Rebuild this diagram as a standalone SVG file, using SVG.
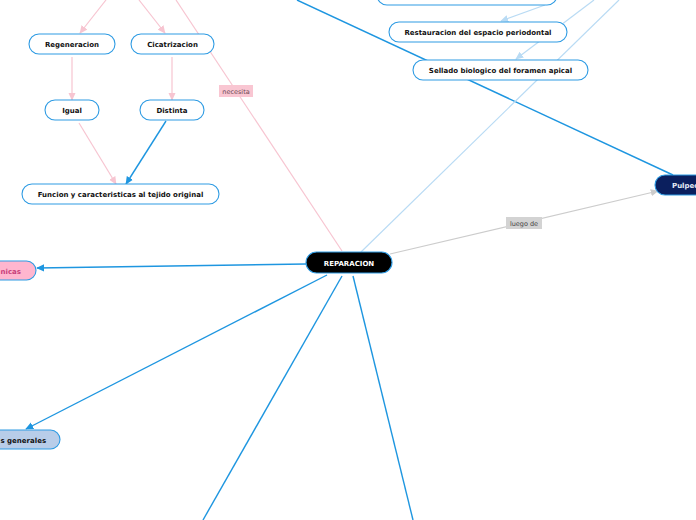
<svg xmlns="http://www.w3.org/2000/svg" width="696" height="520" viewBox="0 0 696 520">
<style>
.n rect{fill:#fff;stroke:#2e9be3;stroke-width:1.1}
.t{font-family:"DejaVu Sans",Verdana,sans-serif;font-weight:bold;font-size:7px;fill:#111;text-anchor:middle}
.c{fill:none;stroke-width:1.2}
.blue{stroke:#1e96e0;stroke-width:1.4}
.pink{stroke:#f7c5d1}
.lb{stroke:#b9dbf4}
.grey{stroke:#cccccc}
.lbl{font-family:"DejaVu Sans",Verdana,sans-serif;font-size:6.5px;text-anchor:middle}
</style>
<defs>
<marker id="mb" viewBox="0 0 10 10" refX="9" refY="5" markerWidth="8" markerHeight="8" markerUnits="userSpaceOnUse" orient="auto"><path d="M0,0.5 L10,5 L0,9.5 z" fill="#1e96e0"/></marker>
<marker id="mp" viewBox="0 0 10 10" refX="9" refY="5" markerWidth="8" markerHeight="8" markerUnits="userSpaceOnUse" orient="auto"><path d="M0,0.5 L10,5 L0,9.5 z" fill="#f7c5d1"/></marker>
<marker id="ml" viewBox="0 0 10 10" refX="9" refY="5" markerWidth="8" markerHeight="8" markerUnits="userSpaceOnUse" orient="auto"><path d="M0,0.5 L10,5 L0,9.5 z" fill="#b9dbf4"/></marker>
<marker id="mg" viewBox="0 0 10 10" refX="9" refY="5" markerWidth="8" markerHeight="8" markerUnits="userSpaceOnUse" orient="auto"><path d="M0,0.5 L10,5 L0,9.5 z" fill="#cccccc"/></marker>
</defs>
<rect width="696" height="520" fill="#fff"/>
<g id="connectors">
<line class="c blue" x1="297" y1="0" x2="673" y2="175"/>
<line class="c pink" x1="176" y1="0" x2="342" y2="251"/>
<line class="c lb" x1="619" y1="0" x2="361" y2="252"/>
<line class="c lb" x1="545" y1="5" x2="501" y2="21" marker-end="url(#ml)"/>
<line class="c lb" x1="594" y1="0" x2="516" y2="59" marker-end="url(#ml)"/>
<line class="c pink" x1="106" y1="0" x2="80" y2="33" marker-end="url(#mp)"/>
<line class="c pink" x1="139" y1="0" x2="165" y2="33" marker-end="url(#mp)"/>
<line class="c pink" x1="72" y1="57" x2="72" y2="100" marker-end="url(#mp)"/>
<line class="c pink" x1="172" y1="57" x2="172" y2="100" marker-end="url(#mp)"/>
<line class="c pink" x1="79" y1="123" x2="116" y2="184" marker-end="url(#mp)"/>
<line class="c blue" x1="166" y1="121" x2="126" y2="184" marker-end="url(#mb)"/>
<line class="c grey" x1="390" y1="254" x2="658" y2="191" marker-end="url(#mg)"/>
<line class="c blue" x1="306" y1="264" x2="37" y2="268" marker-end="url(#mb)"/>
<line class="c blue" x1="327" y1="275" x2="26" y2="429" marker-end="url(#mb)"/>
<line class="c blue" x1="342" y1="276" x2="203" y2="520"/>
<line class="c blue" x1="353" y1="276" x2="413" y2="520"/>
<g id="label-necesita"><rect x="219" y="85" width="34" height="12" fill="#f9c6d2"/><text class="lbl" x="236" y="93.5" fill="#6b4a52">necesita</text></g>
<g id="label-luego"><rect x="506" y="217" width="36" height="12" fill="#d3d3d3"/><text class="lbl" x="524" y="225.5" fill="#444">luego de</text></g>
</g>
<g id="node-top" class="n"><rect x="377" y="-15" width="180" height="20" rx="10"/></g>
<g id="node-restauracion" class="n"><rect x="389" y="22" width="178" height="20" rx="10"/><text class="t" x="478" y="35">Restauracion del espacio periodontal</text></g>
<g id="node-sellado" class="n"><rect x="413" y="60" width="175" height="20" rx="10"/><text class="t" x="500.5" y="73">Sellado biologico del foramen apical</text></g>
<g id="node-regeneracion" class="n"><rect x="29" y="34" width="86" height="20" rx="10"/><text class="t" x="72" y="47">Regeneracion</text></g>
<g id="node-cicatrizacion" class="n"><rect x="131" y="34" width="83" height="20" rx="10"/><text class="t" x="172.5" y="47">Cicatrizacion</text></g>
<g id="node-igual" class="n"><rect x="45" y="100" width="54" height="20" rx="10"/><text class="t" x="72" y="113">Igual</text></g>
<g id="node-distinta" class="n"><rect x="140" y="100" width="64" height="20" rx="10"/><text class="t" x="172" y="113">Distinta</text></g>
<g id="node-funcion" class="n"><rect x="22" y="184" width="197" height="20" rx="10"/><text class="t" x="120.5" y="197">Funcion y caracteristicas al tejido original</text></g>
<g id="node-reparacion"><rect x="306" y="252" width="86" height="21" rx="10.5" fill="#000" stroke="#2e9be3" stroke-width="1.1"/><text class="t" x="349" y="265.5" style="fill:#fff">REPARACION</text></g>
<g id="node-pulpec"><rect x="655" y="175" width="60" height="20" rx="10" fill="#0b1f5e" stroke="#2e9be3" stroke-width="1.1"/><text x="672" y="188" font-family="DejaVu Sans, Verdana, sans-serif" font-weight="bold" font-size="7" fill="#e6ecf7">Pulpec</text></g>
<g id="node-nicas"><rect x="-40" y="261" width="76" height="19" rx="9.5" fill="#ffb6cf" stroke="#2e9be3" stroke-width="1.1"/><text x="21" y="273.5" font-family="DejaVu Sans, Verdana, sans-serif" font-weight="bold" font-size="7" fill="#c8407a" text-anchor="end">nicas</text></g>
<g id="node-generales"><rect x="-40" y="430" width="100" height="19" rx="9.5" fill="#b8cde9" stroke="#2e9be3" stroke-width="1.1"/><text x="0.5" y="442.5" font-family="DejaVu Sans, Verdana, sans-serif" font-weight="bold" font-size="7" fill="#111">s generales</text></g>
</svg>
